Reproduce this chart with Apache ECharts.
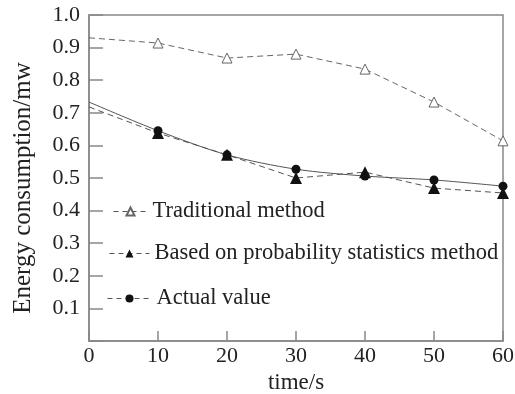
<!DOCTYPE html>
<html>
<head>
<meta charset="utf-8">
<script src="https://cdn.jsdelivr.net/npm/echarts@6/dist/echarts.min.js"></script>
<style>
  html, body { margin: 0; padding: 0; background: #fff; }
  #chart { width: 515px; height: 394px; }
</style>
</head>
<body>
<div id="chart"></div>
<script>
const times = [0, 10, 20, 30, 40, 50, 60];
const traditional = [0.93, 0.914, 0.868, 0.88, 0.834, 0.733, 0.614];
const probability = [0.718, 0.638, 0.571, 0.5, 0.518, 0.469, 0.454];
const actual = [0.733, 0.645, 0.571, 0.527, 0.506, 0.494, 0.475];
const seriesNames = ['Traditional method', 'Based on probability statistics method', 'Actual value'];

const font = 'Liberation Serif, Times New Roman, serif';

function pairs(values) {
    // first point sits on the y axis with no marker
    return values.map((v, i) => i === 0 ? { value: [times[i], v], symbol: 'none' } : [times[i], v]);
}

function legendAt(name, top, left, width) {
    return {
        data: [{ name: name, lineStyle: { type: [5, 4], width: 1, color: '#555' } }],
        left: left,
        top: top,
        itemWidth: width,
        itemHeight: 10,
        itemGap: 0,
        textStyle: { fontFamily: font, fontSize: 22.5, color: '#222' },
        selectedMode: false
    };
}

const chart = echarts.init(document.getElementById('chart'));
chart.setOption({
    animation: false,
    backgroundColor: '#fff',
    grid: {
        left: 89, right: 12, top: 15, bottom: 53,
        outerBoundsMode: 'none',
        show: true, borderColor: '#888', borderWidth: 1.5
    },
    legend: [
        legendAt(seriesNames[0], 195, 108, 34),
        legendAt(seriesNames[1], 237, 104, 40),
        legendAt(seriesNames[2], 282, 102, 44)
    ],
    graphic: [{
        type: 'text',
        x: 23, y: 188,
        rotation: Math.PI / 2,
        style: {
            text: 'Energy consumption/mw',
            font: '25px ' + font,
            fill: '#222',
            textAlign: 'center',
            textVerticalAlign: 'middle'
        }
    }],
    xAxis: {
        type: 'value',
        min: 0, max: 60, interval: 10,
        name: 'time/s',
        nameLocation: 'middle',
        nameGap: 20,
        nameTextStyle: { fontFamily: font, fontSize: 23, color: '#222' },
        axisLine: { lineStyle: { color: '#888', width: 1.5 } },
        axisTick: { inside: true, length: 10, lineStyle: { color: '#888', width: 1.5 } },
        axisLabel: { fontFamily: font, fontSize: 22, color: '#222', margin: 4 },
        splitLine: { show: false }
    },
    yAxis: {
        type: 'value',
        min: 0, max: 1, interval: 0.1,
        axisLine: { lineStyle: { color: '#888', width: 1.5 } },
        axisTick: { inside: true, length: 14, lineStyle: { color: '#888', width: 1.5 } },
        axisLabel: {
            fontFamily: font, fontSize: 22, color: '#222', margin: 9,
            formatter: v => v === 0 ? '' : v.toFixed(1)
        },
        splitLine: { show: false }
    },
    series: [
        {
            name: seriesNames[0],
            type: 'line',
            data: pairs(traditional),
            symbol: 'triangle',
            symbolSize: 10,
            itemStyle: { color: '#fff', borderColor: '#666', borderWidth: 1 },
            lineStyle: { color: '#666', width: 1, type: [6, 4] },
            z: 3
        },
        {
            name: seriesNames[1],
            type: 'line',
            data: pairs(probability),
            symbol: 'triangle',
            symbolSize: 12,
            itemStyle: { color: '#111' },
            lineStyle: { color: '#555', width: 1, type: [6, 4] },
            z: 4
        },
        {
            name: seriesNames[2],
            type: 'line',
            data: pairs(actual),
            symbol: 'circle',
            symbolSize: 9,
            smooth: 0.3,
            itemStyle: { color: '#111' },
            lineStyle: { color: '#555', width: 1 },
            z: 5
        }
    ]
});
</script>
</body>
</html>
